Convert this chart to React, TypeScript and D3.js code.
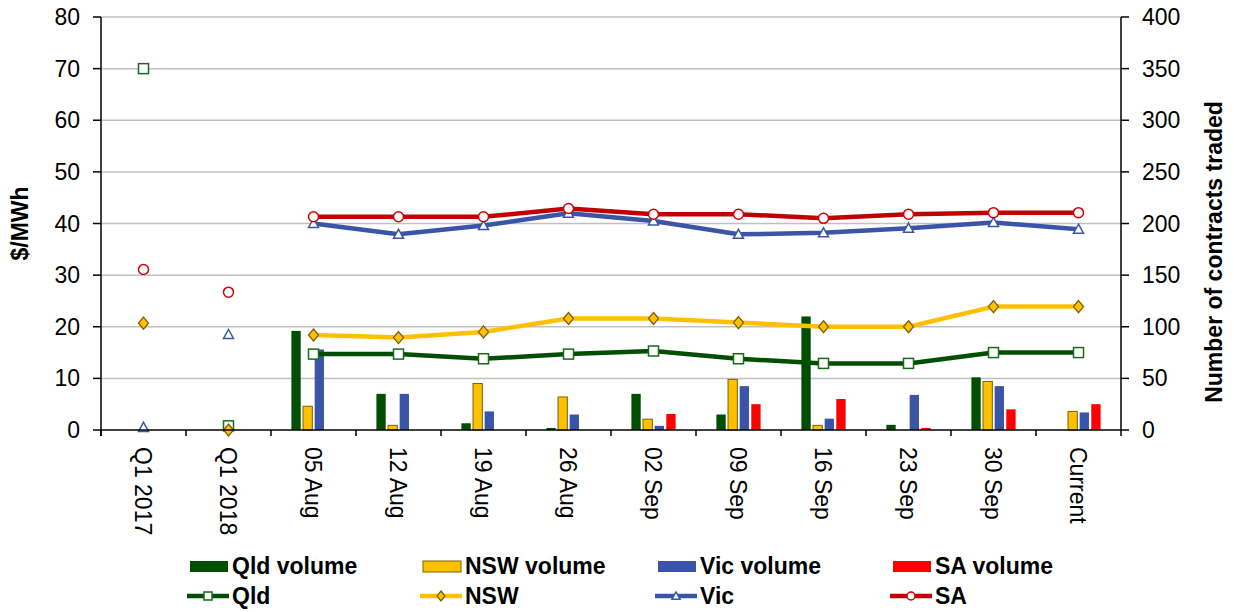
// @ts-nocheck
import React from "react";
import * as d3 from "d3";

const categories = ["Q1 2017", "Q1 2018", "05 Aug", "12 Aug", "19 Aug", "26 Aug", "02 Sep", "09 Sep", "16 Sep", "23 Sep", "30 Sep", "Current"];

// contracts traded (right axis)
const qldVolume = [0, 0, 96, 35, 6.5, 2, 35, 15, 110, 5, 51, 0];
const nswVolume = [0, 0, 23, 4.5, 45, 32, 10.5, 49, 4.5, 0, 47, 18];
const vicVolume = [0, 0, 78, 35, 18, 15, 4, 42.5, 11, 34, 42.5, 17];
const saVolume = [0, 0, 0, 0, 0, 0, 15.5, 25, 30, 2, 20, 25];

// $/MWh (left axis)
const qldPrice = [70, 0.8, 14.7, 14.7, 13.8, 14.7, 15.3, 13.8, 12.9, 12.9, 15, 15];
const nswPrice = [20.7, 0, 18.4, 17.9, 19.0, 21.6, 21.6, 20.8, 20.0, 20.0, 23.9, 23.9];
const vicPrice = [0.5, 18.5, 40.0, 37.9, 39.6, 42.0, 40.5, 37.9, 38.2, 39.1, 40.2, 38.9];
const saPrice = [31.1, 26.7, 41.3, 41.3, 41.3, 42.9, 41.8, 41.8, 41.0, 41.8, 42.1, 42.1];

const leftTicks = [0, 10, 20, 30, 40, 50, 60, 70, 80];
const rightTicks = [0, 50, 100, 150, 200, 250, 300, 350, 400];

const volumeSeries = [
  { name: "Qld volume", values: qldVolume, fill: "#004f00", stroke: "none" },
  { name: "NSW volume", values: nswVolume, fill: "#ffc000", stroke: "#7f6000" },
  { name: "Vic volume", values: vicVolume, fill: "#3a55a8", stroke: "none" },
  { name: "SA volume", values: saVolume, fill: "#ff0000", stroke: "none" },
];

const priceSeries = [
  { name: "Qld", values: qldPrice, color: "#004f00", marker: "square", mStroke: "#1a6a1a", mFill: "#ffffff" },
  { name: "NSW", values: nswPrice, color: "#ffc000", marker: "diamond", mStroke: "#7f6000", mFill: "#ffc000" },
  { name: "Vic", values: vicPrice, color: "#3a55a8", marker: "triangle", mStroke: "#3a55a8", mFill: "#ffffff" },
  { name: "SA", values: saPrice, color: "#c00000", marker: "circle", mStroke: "#d00000", mFill: "#ffffff" },
];

const FONT = "'Liberation Sans', Arial, sans-serif";

const drawMarker = (g, type, x, y, size, stroke, fill) => {
  const h = size / 2;
  if (type === "square") {
    g.append("rect").attr("x", x - h).attr("y", y - h).attr("width", size).attr("height", size)
      .attr("fill", fill).attr("stroke", stroke).attr("stroke-width", 1.5);
  } else if (type === "diamond") {
    g.append("path").attr("d", `M${x},${y - h - 1}L${x + h},${y}L${x},${y + h + 1}L${x - h},${y}Z`)
      .attr("fill", fill).attr("stroke", stroke).attr("stroke-width", 1.3);
  } else if (type === "triangle") {
    g.append("path").attr("d", `M${x},${y - h}L${x + h},${y + h * 0.8}L${x - h},${y + h * 0.8}Z`)
      .attr("fill", fill).attr("stroke", stroke).attr("stroke-width", 1.5);
  } else {
    g.append("circle").attr("cx", x).attr("cy", y).attr("r", h)
      .attr("fill", fill).attr("stroke", stroke).attr("stroke-width", 1.5);
  }
};

const App = () => {
  const svgRef = React.useRef(null);
  const width = 1234;
  const height = 612;

  React.useEffect(() => {
    document.body.style.margin = "0";
    const left = 101, right = 1121, top = 17, bottom = 430;

    const x = d3.scaleBand().domain(categories).range([left, right]).paddingInner(0.48).paddingOuter(0.24);
    const xSub = d3.scaleBand().domain(volumeSeries.map((s) => s.name)).range([0, x.bandwidth()]).paddingInner(0.2);
    const yL = d3.scaleLinear().domain([0, 80]).range([bottom, top]);
    const yR = d3.scaleLinear().domain([0, 400]).range([bottom, top]);
    const cx = (c) => x(c) + x.bandwidth() / 2;

    const svg = d3.select(svgRef.current);
    svg.selectAll("*").remove();

    // grid lines
    svg.append("g").selectAll("line").data(leftTicks.slice(1)).enter().append("line")
      .attr("x1", left).attr("x2", right)
      .attr("y1", (d) => yL(d)).attr("y2", (d) => yL(d))
      .attr("stroke", "#c0c0c0").attr("stroke-width", 1.5);

    // volume bars
    const bars = svg.append("g");
    volumeSeries.forEach((s) => {
      bars.selectAll(null).data(categories.map((c, i) => ({ c, v: s.values[i] })).filter((d) => d.v > 0))
        .enter().append("rect")
        .attr("x", (d) => x(d.c) + xSub(s.name))
        .attr("width", xSub.bandwidth())
        .attr("y", (d) => yR(d.v))
        .attr("height", (d) => yR(0) - yR(d.v))
        .attr("fill", s.fill)
        .attr("stroke", s.stroke)
        .attr("stroke-width", 1);
    });

    // price lines (connected from 05 Aug)
    const lines = svg.append("g");
    priceSeries.forEach((s) => {
      const line = d3.line()
        .defined((d, i) => i >= 2)
        .x((d, i) => cx(categories[i]))
        .y((d) => yL(d));
      lines.append("path")
        .attr("d", line(s.values))
        .attr("fill", "none")
        .attr("stroke", s.color)
        .attr("stroke-width", 4.5)
        .attr("stroke-linejoin", "round");
    });
    priceSeries.forEach((s) => {
      const mg = svg.append("g");
      s.values.forEach((v, i) => drawMarker(mg, s.marker, cx(categories[i]), yL(v), 10, s.mStroke, s.mFill));
    });

    // axes
    const axes = svg.append("g").attr("stroke", "#000").attr("stroke-width", 1.5);
    axes.append("line").attr("x1", left).attr("x2", left).attr("y1", top).attr("y2", bottom + 6);
    axes.append("line").attr("x1", right).attr("x2", right).attr("y1", top).attr("y2", bottom + 6);
    axes.append("line").attr("x1", left).attr("x2", right).attr("y1", bottom).attr("y2", bottom);
    leftTicks.forEach((t) => axes.append("line").attr("x1", left - 8).attr("x2", left).attr("y1", yL(t)).attr("y2", yL(t)));
    rightTicks.forEach((t) => axes.append("line").attr("x1", right).attr("x2", right + 8).attr("y1", yR(t)).attr("y2", yR(t)));
    categories.forEach((c) => axes.append("line").attr("x1", x(c) - x.step() * 0.24).attr("x2", x(c) - x.step() * 0.24).attr("y1", bottom).attr("y2", bottom + 6));

    const txt = svg.append("g").attr("font-family", FONT).attr("fill", "#000");
    leftTicks.forEach((t) => txt.append("text").attr("x", 80).attr("y", yL(t)).attr("dy", "0.35em")
      .attr("text-anchor", "end").attr("font-size", 23).text(t));
    rightTicks.forEach((t) => txt.append("text").attr("x", 1142).attr("y", yR(t)).attr("dy", "0.35em")
      .attr("text-anchor", "start").attr("font-size", 23).text(t));
    categories.forEach((c) => txt.append("text")
      .attr("transform", `translate(${cx(c)},${bottom + 17}) rotate(90)`)
      .attr("dy", "0.35em").attr("font-size", 23).text(c));

    txt.append("text").attr("transform", `translate(20,${(top + bottom) / 2}) rotate(-90)`)
      .attr("dy", "0.35em").attr("text-anchor", "middle").attr("font-size", 23).attr("font-weight", "bold").text("$/MWh");
    txt.append("text").attr("transform", `translate(1214,252) rotate(-90)`)
      .attr("dy", "0.35em").attr("text-anchor", "middle").attr("font-size", 23).attr("font-weight", "bold").text("Number of contracts traded");

    // legend
    const legX = [190, 423, 658, 893];
    const leg = svg.append("g").attr("font-family", FONT).attr("font-weight", "bold").attr("font-size", 23);
    volumeSeries.forEach((s, i) => {
      leg.append("rect").attr("x", legX[i]).attr("y", 561).attr("width", 38).attr("height", 11)
        .attr("fill", s.fill).attr("stroke", s.stroke).attr("stroke-width", 1);
      leg.append("text").attr("x", legX[i] + 42).attr("y", 574).text(s.name);
    });
    priceSeries.forEach((s, i) => {
      leg.append("line").attr("x1", legX[i] - 3).attr("x2", legX[i] + 39).attr("y1", 596).attr("y2", 596)
        .attr("stroke", s.color).attr("stroke-width", 4.5);
      drawMarker(leg, s.marker, legX[i] + 18, 596, 8, s.mStroke, s.mFill);
      leg.append("text").attr("x", legX[i] + 42).attr("y", 604).text(s.name);
    });
  }, []);

  return <svg ref={svgRef} width={width} height={height} style={{ display: "block" }} />;
};

export default App;
